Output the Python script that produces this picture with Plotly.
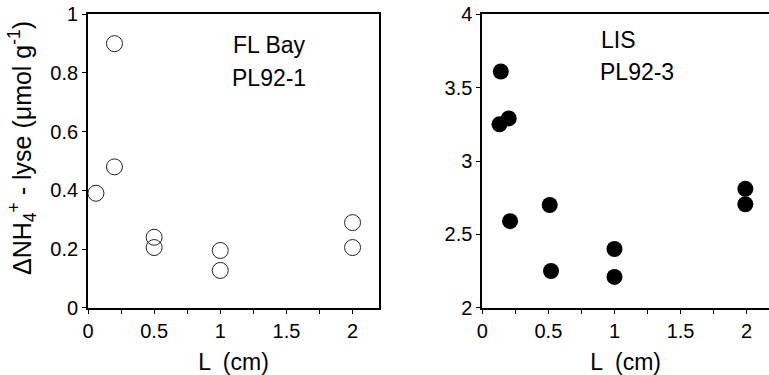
import plotly.graph_objects as go

# Left panel: FL Bay PL92-1 (open circles)
fl_L = [0.06, 0.2, 0.2, 0.5, 0.5, 1.0, 1.0, 2.0, 2.0]
fl_val = [0.39, 0.90, 0.48, 0.24, 0.205, 0.195, 0.127, 0.29, 0.205]

# Right panel: LIS PL92-3 (filled circles)
lis_L = [0.14, 0.13, 0.2, 0.21, 0.51, 0.52, 1.0, 1.0, 1.99, 1.99]
lis_val = [3.61, 3.25, 3.29, 2.59, 2.70, 2.25, 2.40, 2.21, 2.81, 2.705]

x_ticks = [0, 0.5, 1, 1.5, 2]
x_ticklabels = ["0", "0.5", "1", "1.5", "2"]
left_yticks = [0, 0.2, 0.4, 0.6, 0.8, 1]
left_yticklabels = ["0", "0.2", "0.4", "0.6", "0.8", "1"]
right_yticks = [2, 2.5, 3, 3.5, 4]
right_yticklabels = ["2", "2.5", "3", "3.5", "4"]

W, H = 769, 375
font = "Liberation Sans, Arial, sans-serif"
TICK = 20
LAB = 23

fig = go.Figure()
fig.add_trace(go.Scatter(
    x=fl_L, y=fl_val, mode="markers", xaxis="x", yaxis="y",
    marker=dict(symbol="circle-open", size=16, color="#222", line=dict(width=1)),
    showlegend=False))
fig.add_trace(go.Scatter(
    x=lis_L, y=lis_val, mode="markers", xaxis="x2", yaxis="y2",
    marker=dict(symbol="circle", size=16, color="#000"),
    showlegend=False))

ax_common = dict(
    showgrid=False, zeroline=False, showline=True, linecolor="#000", linewidth=1.8,
    ticks="outside", ticklen=4, tickcolor="#000", tickwidth=1, automargin=False,
    tickfont=dict(family=font, size=TICK, color="#000"),
)

x_dom_l = [88 / W, 379 / W]
x_dom_r = [482.3 / W, 1.0]
y_dom = [(H - 307.7) / H, (H - 14.3) / H]

fig.update_layout(
    width=W, height=H,
    margin=dict(l=0, r=0, t=0, b=0),
    paper_bgcolor="white", plot_bgcolor="white",
    font=dict(family=font, color="#000"),
    xaxis=dict(domain=x_dom_l, range=[0, 2.2], anchor="y",
               tickvals=x_ticks, ticktext=x_ticklabels, mirror=True,
               minor=dict(dtick=0.25, tick0=0, ticks="outside", ticklen=4, tickcolor="#000"),
               title=dict(text="L  (cm)", font=dict(family=font, size=LAB), standoff=14),
               **ax_common),
    yaxis=dict(domain=y_dom, range=[0, 1], anchor="x",
               tickvals=left_yticks, ticktext=left_yticklabels, mirror=True,
               **ax_common),
    xaxis2=dict(domain=x_dom_r, range=[0, 2.169], anchor="y2",
                tickvals=x_ticks, ticktext=x_ticklabels, mirror=True,
                minor=dict(dtick=0.25, tick0=0, ticks="outside", ticklen=4, tickcolor="#000"),
                title=dict(text="L  (cm)", font=dict(family=font, size=LAB), standoff=14),
                **ax_common),
    yaxis2=dict(domain=y_dom, range=[2, 4], anchor="x2",
                tickvals=right_yticks, ticktext=right_yticklabels, mirror=False,
                **ax_common),
    annotations=[
        dict(text="\u0394NH<sub>4</sub><sup>+</sup> - lyse (\u03bcmol g<sup>-1</sup>)",
             x=22 / W, y=1 - 148 / H, xref="paper", yref="paper", textangle=-90,
             showarrow=False, font=dict(family=font, size=25), xanchor="center", yanchor="middle"),
        dict(text="FL Bay", x=269 / W, y=1 - 45 / H, xref="paper", yref="paper",
             showarrow=False, font=dict(family=font, size=LAB), xanchor="center", yanchor="middle"),
        dict(text="PL92-1", x=269 / W, y=1 - 78 / H, xref="paper", yref="paper",
             showarrow=False, font=dict(family=font, size=LAB), xanchor="center", yanchor="middle"),
        dict(text="LIS", x=599 / W, y=1 - 40 / H, xref="paper", yref="paper",
             showarrow=False, font=dict(family=font, size=LAB), xanchor="left", yanchor="middle"),
        dict(text="PL92-3", x=598 / W, y=1 - 72 / H, xref="paper", yref="paper",
             showarrow=False, font=dict(family=font, size=LAB), xanchor="left", yanchor="middle"),
    ],
)

fig.write_html("out.html")
